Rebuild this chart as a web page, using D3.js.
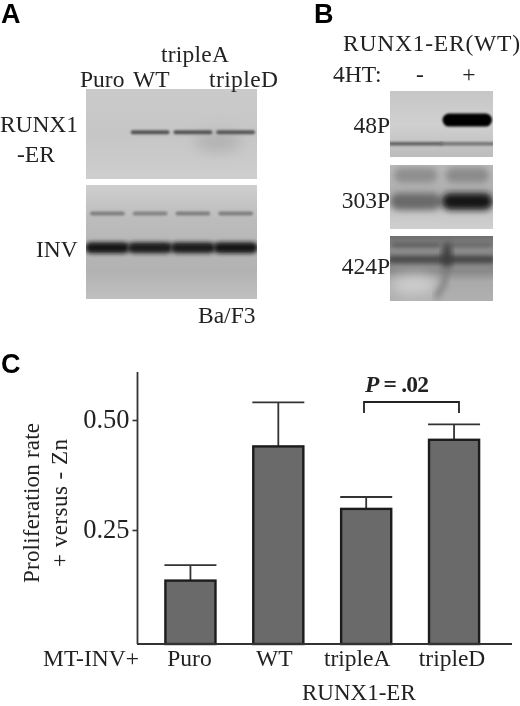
<!DOCTYPE html>
<html>
<head>
<meta charset="utf-8">
<script src="https://cdn.jsdelivr.net/npm/d3@7"></script>
<style>
  html, body { margin: 0; padding: 0; background: #fff; }
  svg { display: block; }
  text { font-family: "Liberation Serif", serif; fill: #222; }
  .letter { font-family: "Liberation Sans", sans-serif; font-weight: bold; font-size: 27px; fill: #000; }
</style>
</head>
<body>
<svg id="fig" width="520" height="706"></svg>
<script>
// panel C values
let categories = ["Puro", "WT", "tripleA", "tripleD"];
let rates = [0.135, 0.44, 0.298, 0.455];
let errorTops = [0.17, 0.54, 0.325, 0.49];
let rateTicks = [0.25, 0.5];

// blots: darkness of each band per lane (0 - 1), and how far down the membrane it ran (0 - 1)
let runxLanes = ["Puro", "WT", "tripleA", "tripleD"];
let runxBand = [0, 0.62, 0.62, 0.6];
let runxDistance = 0.48;
let invUpperBand = [0.4, 0.38, 0.4, 0.4];
let invUpperDistance = 0.25;
let invLowerBand = [0.92, 0.9, 0.9, 0.92];
let invLowerDistance = 0.55;

let htLanes = ["-", "+"];
let p48Upper = [0, 1];
let p48Lower = [0.55, 0.45];
let p48Distances = [0.44, 0.8];
let p303Upper = [0.32, 0.34];
let p303Lower = [0.5, 0.92];
let p303Distances = [0.16, 0.57];
let p424Upper = [0.58, 0.52];
let p424Lower = [0.64, 0.66];
let p424Distances = [0.14, 0.36];

let svg = d3.select("#fig");
let defs = svg.append("defs");

let blur = (id, s) => defs.append("filter").attr("id", id)
  .attr("x", "-30%").attr("y", "-150%").attr("width", "160%").attr("height", "400%")
  .append("feGaussianBlur").attr("stdDeviation", s);
blur("soft", 1.3);
blur("mid", 2);
blur("wide", 3);
blur("smudge", 7);
blur("ink", 0.35);

let gradient = (id, stops) => {
  let g = defs.append("linearGradient").attr("id", id).attr("x1", 0).attr("x2", 0).attr("y1", 0).attr("y2", 1);
  stops.forEach(s => g.append("stop").attr("offset", s[0]).attr("stop-color", s[1]));
};
gradient("bgRunx", [[0, "#cacaca"], [0.5, "#c6c6c6"], [1, "#cecece"]]);
gradient("bgInv", [[0, "#cfcfcf"], [0.3, "#bcbcbc"], [0.75, "#b2b2b2"], [1, "#c0c0c0"]]);
gradient("bg48", [[0, "#c6c6c6"], [0.5, "#d0d0d0"], [1, "#bcbcbc"]]);
gradient("bg303", [[0, "#b8b8b8"], [0.4, "#b0b0b0"], [0.7, "#c4c4c4"], [1, "#d0d0d0"]]);
gradient("bg424", [[0, "#6e6e6e"], [0.2, "#8c8c8c"], [0.55, "#8a8a8a"], [0.7, "#aaaaaa"], [1, "#b0b0b0"]]);

let grey = d3.scaleLinear().domain([0, 1]).range(["#cfcfcf", "#060606"]);

// one membrane panel: background, clip, returns a group to put bands in
let panelCount = 0;
let drawPanel = (x, y, w, h, bg) => {
  let id = "clip" + (panelCount++);
  defs.append("clipPath").attr("id", id).append("rect").attr("x", x).attr("y", y).attr("width", w).attr("height", h);
  let g = svg.append("g").attr("clip-path", "url(#" + id + ")");
  g.append("rect").attr("x", x).attr("y", y).attr("width", w).attr("height", h).attr("fill", "url(#" + bg + ")");
  return g;
};

let drawBands = (g, lanes, values, dist, yScale, thick, inset, filter) => {
  g.append("g").selectAll("rect").data(values).enter().append("rect")
    .attr("x", (d, i) => lanes(lanes.domain()[i]) + inset)
    .attr("width", lanes.bandwidth() - inset * 2)
    .attr("y", yScale(dist) - thick / 2)
    .attr("height", thick)
    .attr("rx", thick / 2)
    .attr("fill", d => grey(d))
    .attr("opacity", d => d === 0 ? 0 : 1)
    .attr("filter", "url(#" + filter + ")");
};

// A
let laneA = d3.scaleBand().domain(runxLanes).range([86, 257]);
let runxY = d3.scaleLinear().domain([0, 1]).range([89, 179]);
let invY = d3.scaleLinear().domain([0, 1]).range([185, 299]);

let gRunx = drawPanel(86, 89, 171, 90, "bgRunx");
gRunx.append("ellipse").attr("cx", 218).attr("cy", 142).attr("rx", 24).attr("ry", 9)
  .attr("fill", "#b0b0b0").attr("filter", "url(#smudge)");
drawBands(gRunx, laneA, runxBand, runxDistance, runxY, 4, 2, "soft");

let gInv = drawPanel(86, 185, 171, 114, "bgInv");
drawBands(gInv, laneA, invUpperBand, invUpperDistance, invY, 4, 4, "soft");
drawBands(gInv, laneA, invLowerBand, invLowerDistance, invY, 11, -1, "mid");

// B
let laneB = d3.scaleBand().domain(htLanes).range([390, 493]);
let y48 = d3.scaleLinear().domain([0, 1]).range([91, 157]);
let y303 = d3.scaleLinear().domain([0, 1]).range([165, 229]);
let y424 = d3.scaleLinear().domain([0, 1]).range([236, 301]);

let g48 = drawPanel(390, 91, 103, 66, "bg48");
drawBands(g48, laneB, p48Upper, p48Distances[0], y48, 13, 1, "soft");
drawBands(g48, laneB, p48Lower, p48Distances[1], y48, 3.5, -2, "soft");

let g303 = drawPanel(390, 165, 103, 64, "bg303");
drawBands(g303, laneB, p303Upper, p303Distances[0], y303, 15, 4, "wide");
drawBands(g303, laneB, p303Lower, p303Distances[1], y303, 17, 0, "wide");

let g424 = drawPanel(390, 236, 103, 65, "bg424");
g424.append("ellipse").attr("cx", 414).attr("cy", 285).attr("rx", 24).attr("ry", 10)
  .attr("fill", "#cfcfcf").attr("filter", "url(#smudge)");
drawBands(g424, laneB, p424Upper, p424Distances[0], y424, 4, 1, "mid");
drawBands(g424, laneB, p424Lower, p424Distances[1], y424, 8, -2, "mid");
g424.append("ellipse").attr("cx", 447).attr("cy", 256).attr("rx", 5).attr("ry", 13)
  .attr("fill", "#3e3e3e").attr("filter", "url(#wide)");
g424.append("path").attr("d", d3.line()([[447, 268], [444, 284], [436, 298]]))
  .attr("fill", "none").attr("stroke", "#7c7c7c").attr("stroke-width", 5).attr("filter", "url(#wide)");

// C
let x = d3.scaleBand().domain(categories).range([146.5, 498]).paddingInner(0.43).paddingOuter(0.215);
let y = d3.scaleLinear().domain([0.25, 0.5]).range([530, 420]);
let baseY = 644;
let plot = svg.append("g");

let capW = 52;
plot.selectAll(".stem").data(categories).enter().append("line")
  .attr("x1", d => x(d) + x.bandwidth() / 2)
  .attr("x2", d => x(d) + x.bandwidth() / 2)
  .attr("y1", (d, i) => y(rates[i]))
  .attr("y2", (d, i) => y(errorTops[i]))
  .attr("stroke", "#333").attr("stroke-width", 1.8);
plot.selectAll(".cap").data(categories).enter().append("line")
  .attr("x1", d => x(d) + x.bandwidth() / 2 - capW / 2)
  .attr("x2", d => x(d) + x.bandwidth() / 2 + capW / 2)
  .attr("y1", (d, i) => y(errorTops[i]))
  .attr("y2", (d, i) => y(errorTops[i]))
  .attr("stroke", "#333").attr("stroke-width", 1.8);
plot.selectAll(".bar").data(categories).enter().append("rect")
  .attr("class", "bar")
  .attr("x", d => x(d))
  .attr("width", x.bandwidth())
  .attr("y", (d, i) => y(rates[i]))
  .attr("height", (d, i) => baseY - y(rates[i]))
  .attr("fill", "#6a6a6a").attr("stroke", "#1c1c1c").attr("stroke-width", 2.4);

let yAxis = d3.axisLeft(y).tickValues(rateTicks).tickFormat(d3.format(".2f")).tickSize(5).tickPadding(3);
let yG = plot.append("g").attr("transform", "translate(137.5,0)").call(yAxis);
yG.select(".domain").remove();
yG.selectAll("line").attr("stroke", "#333").attr("stroke-width", 1.6);
yG.selectAll("text").attr("font-family", null).style("font-size", "26.5px").attr("dy", "0.3em");
plot.append("line").attr("x1", 137.5).attr("x2", 137.5).attr("y1", 372).attr("y2", baseY)
  .attr("stroke", "#333").attr("stroke-width", 1.8);
plot.append("line").attr("x1", 137).attr("x2", 512).attr("y1", baseY).attr("y2", baseY)
  .attr("stroke", "#333").attr("stroke-width", 2);

// the printed labels sit a little left of their bars
let labelShift = [-1, -4, -9, -2];
let xAxis = d3.axisBottom(x).tickSize(0).tickPadding(6);
let xG = plot.append("g").attr("transform", "translate(0," + baseY + ")").call(xAxis);
xG.select(".domain").remove();
xG.selectAll("text").attr("font-family", null).style("font-size", "23.5px")
  .attr("y", 22).attr("dy", 0).attr("x", (d, i) => labelShift[i]);

// significance bracket
plot.append("path")
  .attr("d", d3.line()([[364, 413], [364, 402], [459, 402], [459, 413]]))
  .attr("fill", "none").attr("stroke", "#222").attr("stroke-width", 1.8);

// labels
let label = (s, px, py, size, anchor) => svg.append("text").text(s)
  .attr("x", px).attr("y", py)
  .attr("text-anchor", anchor || "start")
  .style("font-size", (size || 23.5) + "px");

svg.append("text").attr("class", "letter").attr("x", 1).attr("y", 23).text("A");
svg.append("text").attr("class", "letter").attr("x", 314).attr("y", 23).text("B");
svg.append("text").attr("class", "letter").attr("x", 1).attr("y", 373).text("C");

label("Puro", 80, 87);
label("WT", 133, 87);
label("tripleA", 161, 62).attr("textLength", 68);
label("tripleD", 209, 87).attr("textLength", 69);
label("RUNX1", 0, 132).attr("textLength", 78);
label("-ER", 17, 162);
label("INV", 36, 257);
label("Ba/F3", 198, 323);

label("RUNX1-ER(WT)", 343, 51).attr("textLength", 177);
label("4HT:", 333, 82);
label("-", 420, 82, 23.5, "middle");
label("+", 469, 82, 23.5, "middle");
label("48P", 390, 133, 23.5, "end");
label("303P", 390, 208, 23.5, "end");
label("424P", 390, 274, 23.5, "end");

let pText = svg.append("text").attr("x", 365).attr("y", 392).attr("textLength", 64)
  .style("font-size", "23.5px").style("font-weight", "bold");
pText.append("tspan").style("font-style", "italic").text("P");
pText.append("tspan").text(" = .02");

label("MT-INV+", 43, 666, 23.5);
label("RUNX1-ER", 302, 700, 23);

let yLabel = (s, px, len) => svg.append("text").text(s)
  .attr("transform", "translate(" + px + ",503) rotate(-90)")
  .attr("text-anchor", "middle")
  .attr("textLength", len)
  .style("font-size", "23px");
yLabel("Proliferation rate", 39, 160);
yLabel("+ versus - Zn", 67, 128);

svg.selectAll("text").attr("filter", "url(#ink)");
</script>
</body>
</html>
